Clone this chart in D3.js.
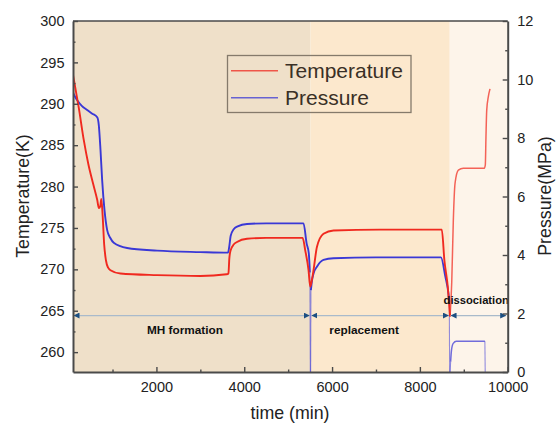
<!DOCTYPE html>
<html>
<head>
<meta charset="utf-8">
<script src="https://cdn.jsdelivr.net/npm/d3@7"></script>
<style>
  html, body { margin: 0; padding: 0; background: #fff; }
  svg { display: block; font-family: "Liberation Sans", Arial, sans-serif; }
</style>
</head>
<body>
<svg id="chart" width="556" height="423"></svg>
<script>
// Temperature record: elapsed time (min) and temperature (K)
const tempTime = [100, 134, 232, 346, 450, 560, 651, 690, 720, 745, 775, 810, 850, 900, 953, 1180, 2015, 3000, 3600, 3640, 3660, 3690, 3760, 3835, 4063, 4500, 5330, 5389, 5464, 5503, 5540, 5578, 5655, 5805, 6033, 7095, 8499, 8558, 8635, 8687, 8726, 8762, 8801, 8876, 8990, 9461, 9490, 9505, 9522, 9560, 9597];
const tempK    = [293.5, 292.5, 289.5, 285.6, 282.7, 280.3, 278.4, 277.4, 277.6, 278.5, 276.5, 273.0, 271.1, 270.2, 269.9, 269.5, 269.3, 269.2, 269.4, 269.5, 271.3, 272.3, 273.0, 273.3, 273.7, 273.8, 273.8, 272.3, 269.9, 267.9, 268.7, 269.9, 272.7, 274.3, 274.7, 274.8, 274.8, 271.1, 267.9, 264.3, 268.5, 276.0, 280.4, 282.0, 282.2, 282.2, 282.6, 286.0, 289.2, 290.9, 291.8];

// Pressure record: elapsed time (min) and pressure (MPa)
const pressTime = [100, 150, 200, 300, 423, 530, 651, 687, 726, 764, 817, 878, 950, 1028, 1333, 2015, 3000, 3630, 3660, 3690, 3760, 3850, 4063, 4500, 5350, 5420, 5470, 5495, 5505, 5512, 5518, 5540, 5578, 5655, 5805, 6033, 7000, 8480, 8580, 8650, 8670, 8678, 8690, 8700, 8720, 8760, 8830, 9480, 9488];
const pressMPa  = [9.55, 9.4, 9.28, 9.1, 8.96, 8.84, 8.71, 8.45, 7.6, 6.56, 5.54, 4.85, 4.58, 4.42, 4.24, 4.15, 4.1, 4.08, 4.3, 4.65, 4.88, 4.98, 5.06, 5.08, 5.08, 4.4, 4.06, 3.4, 0, 0, 2.8, 3.1, 3.37, 3.6, 3.83, 3.89, 3.92, 3.92, 3.26, 2.69, 2.4, 0, 0, 0.35, 0.75, 0.98, 1.05, 1.05, 0];

// Experiment stages and their time limits (min)
const stageNames  = ["MH formation", "replacement", "dissociation"];
const stageBounds = [100, 5510, 8680, 10000];

// Axis ticks
const timeTicks      = [2000, 4000, 6000, 8000, 10000];
const timeMinorTicks = [1000, 3000, 5000, 7000, 9000];
const tempTicks      = [260, 265, 270, 275, 280, 285, 290, 295, 300];
const tempMinorTicks = [262.5, 267.5, 272.5, 277.5, 282.5, 287.5, 292.5, 297.5];
const pressTicks      = [0, 2, 4, 6, 8, 10, 12];
const pressMinorTicks = [1, 3, 5, 7, 9, 11];

// ---- layout and styling ----
const plot = { left: 73, right: 507.7, top: 21, bottom: 372 };
const stageFills = ["#efe0c9", "#fce8cd", "#fdf4ea"];
const tempColor = "#f0291f";
const pressColor = "#3a38d6";
const axisColor = "#4a4a4a";
const labelColor = "#222";

const svg = d3.select("#chart");

const x  = d3.scaleLinear().domain([100, 10000]).range([plot.left, plot.right]);
const yT = d3.scaleLinear().domain([257.6, 300]).range([plot.bottom, plot.top]);
const yP = d3.scaleLinear().domain([0, 12]).range([plot.bottom, plot.top]);

// stage backgrounds
svg.append("g").selectAll("rect")
  .data(stageNames)
  .join("rect")
  .attr("x", (d, i) => x(stageBounds[i]))
  .attr("width", (d, i) => x(stageBounds[i + 1]) - x(stageBounds[i]))
  .attr("y", plot.top)
  .attr("height", plot.bottom - plot.top)
  .attr("fill", (d, i) => stageFills[i]);

const defs = svg.append("defs");
defs.append("clipPath").attr("id", "plotClip")
  .append("rect")
  .attr("x", plot.left).attr("y", plot.top)
  .attr("width", plot.right - plot.left).attr("height", plot.bottom - plot.top);

// arrowheads for the stage spans
defs.append("marker")
  .attr("id", "stageArrow")
  .attr("viewBox", "0 0 10 10")
  .attr("refX", 10).attr("refY", 5)
  .attr("markerUnits", "userSpaceOnUse")
  .attr("markerWidth", 6).attr("markerHeight", 6)
  .attr("orient", "auto-start-reverse")
  .append("path")
  .attr("d", "M0,0 L10,5 L0,10 Z")
  .attr("fill", "#1c4f82");

// ---- data curves ----
const curves = svg.append("g").attr("clip-path", "url(#plotClip)");
const tempLine = d3.line().x(d => x(d[0])).y(d => yT(d[1])).curve(d3.curveMonotoneX);
const pressLine = d3.line().x(d => x(d[0])).y(d => yP(d[1])).curve(d3.curveMonotoneX);

// readings from the dissociation stage are sparser and drawn lighter
function runStyle(path, color, light) {
  path.attr("fill", "none")
    .attr("stroke", color)
    .attr("stroke-width", light ? 1.5 : 1.9)
    .attr("stroke-opacity", light ? 0.72 : 1)
    .attr("stroke-linejoin", "round");
}

// pressure: continuous runs, with thin vent drops to zero between them
const pressPts = pressTime.map((t, i) => [t, pressMPa[i]]);
const pressRuns = [];
let run = [];
pressPts.forEach(p => {
  if (p[1] > 0) run.push(p);
  else { if (run.length) pressRuns.push(run); run = []; }
});
if (run.length) pressRuns.push(run);

for (let i = 1; i < pressPts.length; i++) {
  if (pressPts[i - 1][1] === 0 || pressPts[i][1] === 0) {
    curves.append("line")
      .attr("x1", x(pressPts[i - 1][0])).attr("y1", yP(pressPts[i - 1][1]))
      .attr("x2", x(pressPts[i][0])).attr("y2", yP(pressPts[i][1]))
      .attr("stroke", pressColor).attr("stroke-width", 1.1).attr("stroke-opacity", 0.55);
  }
}
pressRuns.forEach(r => {
  curves.append("path").datum(r).attr("d", pressLine)
    .call(runStyle, pressColor, r[0][0] >= stageBounds[2]);
});

// temperature: split at the start of dissociation (lowest reading)
const tempPts = tempTime.map((t, i) => [t, tempK[i]]);
const splitIdx = tempPts.findIndex(p => p[0] >= stageBounds[2]);
const tempRuns = [tempPts.slice(0, splitIdx + 1), tempPts.slice(splitIdx)];
tempRuns.forEach((r, i) => {
  curves.append("path").datum(r).attr("d", tempLine)
    .call(runStyle, tempColor, i === 1);
});

// ---- stage spans and names ----
const spanY = yP(1.93);
const spans = svg.append("g");
stageNames.forEach((name, i) => {
  spans.append("line")
    .attr("x1", x(stageBounds[i]) + (i === 0 ? 0.5 : 0.8))
    .attr("x2", x(stageBounds[i + 1]) - (i === 2 ? 1.5 : 0.8))
    .attr("y1", spanY).attr("y2", spanY)
    .attr("stroke", "#a9bacb")
    .attr("stroke-width", 1.3)
    .attr("marker-start", "url(#stageArrow)")
    .attr("marker-end", "url(#stageArrow)");
});
const stageLabelTime = [2650, 6730, 8540];
spans.selectAll("text")
  .data(stageNames)
  .join("text")
  .attr("x", (d, i) => x(stageLabelTime[i]))
  .attr("y", (d, i) => i === 2 ? 304 : 333.5)
  .attr("text-anchor", (d, i) => i === 2 ? "start" : "middle")
  .attr("font-size", (d, i) => i === 2 ? 11.2 : 11.8)
  .attr("font-weight", "bold")
  .attr("fill", "#111")
  .text(d => d);

// ---- axes ----
function styleAxis(g) {
  g.select(".domain").attr("stroke", axisColor).attr("stroke-width", 2);
  g.selectAll(".tick line").attr("stroke", axisColor).attr("stroke-width", 1.4);
  g.selectAll(".tick text").attr("fill", labelColor).attr("font-size", 14.5)
    .attr("font-family", "'Liberation Sans', Arial, sans-serif");
}
function minorAxis(g) {
  g.select(".domain").remove();
  g.selectAll(".tick line").attr("stroke", axisColor).attr("stroke-width", 1.4);
}

svg.append("g").attr("transform", `translate(${plot.left},0)`)
  .call(d3.axisLeft(yT).tickValues(tempMinorTicks).tickSizeInner(-2.5).tickSizeOuter(0).tickFormat(""))
  .call(minorAxis);
svg.append("g").attr("transform", `translate(${plot.right},0)`)
  .call(d3.axisRight(yP).tickValues(pressMinorTicks).tickSizeInner(-2.5).tickSizeOuter(0).tickFormat(""))
  .call(minorAxis);
svg.append("g").attr("transform", `translate(0,${plot.bottom})`)
  .call(d3.axisBottom(x).tickValues(timeMinorTicks).tickSizeInner(-2.5).tickSizeOuter(0).tickFormat(""))
  .call(minorAxis);

// top frame edge
svg.append("line")
  .attr("x1", plot.left).attr("x2", plot.right)
  .attr("y1", plot.top).attr("y2", plot.top)
  .attr("stroke", axisColor).attr("stroke-width", 1.5);

svg.append("g").attr("transform", `translate(${plot.left},0)`)
  .call(d3.axisLeft(yT).tickValues(tempTicks).tickSizeInner(-5).tickSizeOuter(0).tickPadding(8.5).tickFormat(d3.format("d")))
  .call(styleAxis);
svg.append("g").attr("transform", `translate(${plot.right},0)`)
  .call(d3.axisRight(yP).tickValues(pressTicks).tickSizeInner(-5).tickSizeOuter(0).tickPadding(9.5).tickFormat(d3.format("d")))
  .call(styleAxis);
svg.append("g").attr("transform", `translate(0,${plot.bottom})`)
  .call(d3.axisBottom(x).tickValues(timeTicks).tickSizeInner(-5).tickSizeOuter(0).tickPadding(9.5).tickFormat(d3.format("d")))
  .call(styleAxis);

// axis titles
svg.append("text")
  .attr("transform", "translate(29,196) rotate(-90)")
  .attr("text-anchor", "middle")
  .attr("font-size", 17.8).attr("fill", labelColor)
  .text("Temperature(K)");
svg.append("text")
  .attr("transform", "translate(551,196) rotate(-90)")
  .attr("text-anchor", "middle")
  .attr("font-size", 17.8).attr("fill", labelColor)
  .text("Pressure(MPa)");
svg.append("text")
  .attr("x", 290).attr("y", 419)
  .attr("text-anchor", "middle")
  .attr("font-size", 17.8).attr("fill", labelColor)
  .text("time (min)");

// ---- legend ----
const legend = svg.append("g");
legend.append("rect")
  .attr("x", 227.5).attr("y", 55.5)
  .attr("width", 183.5).attr("height", 57)
  .attr("fill", "none")
  .attr("stroke", "#857a6b").attr("stroke-width", 1.3);
const legendItems = [
  { name: "Temperature", color: tempColor },
  { name: "Pressure", color: pressColor }
];
legendItems.forEach((item, i) => {
  const cy = 70.7 + i * 27;
  legend.append("line")
    .attr("x1", 231).attr("x2", 278)
    .attr("y1", cy).attr("y2", cy)
    .attr("stroke", item.color).attr("stroke-width", 1.6).attr("opacity", 0.75);
  legend.append("text")
    .attr("x", 285).attr("y", cy + 7)
    .attr("font-size", 21).attr("fill", "#3a3026")
    .text(item.name);
});
</script>
</body>
</html>
